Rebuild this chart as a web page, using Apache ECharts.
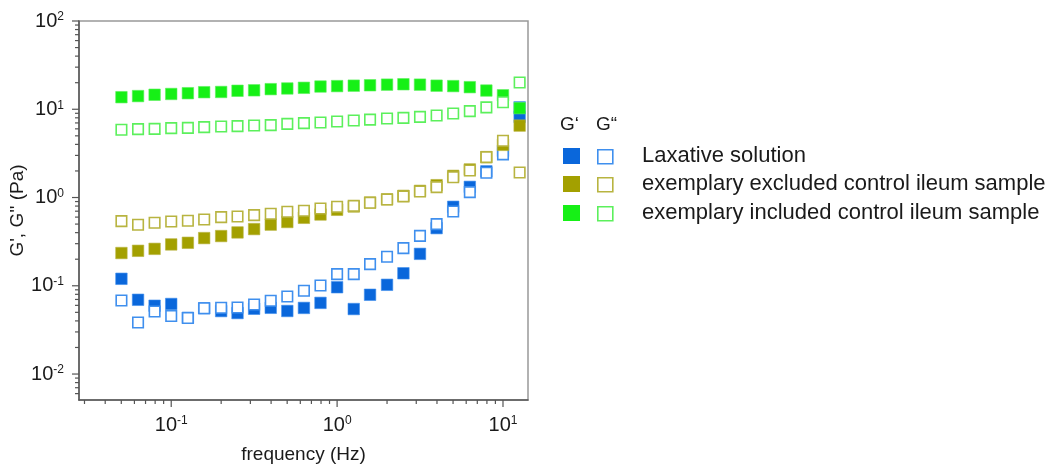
<!DOCTYPE html>
<html>
<head>
<meta charset="utf-8">
<script src="https://cdn.jsdelivr.net/npm/echarts@6/dist/echarts.min.js"></script>
<style>
html,body{margin:0;padding:0;background:#fff;}
#chart{width:1050px;height:465px;}
</style>
</head>
<body>
<div id="chart"></div>
<script>
// ---- data ----
const FREQ = [0.0501,0.0631,0.0794,0.1,0.126,0.158,0.2,0.251,0.316,0.398,0.501,0.631,0.794,1,1.26,1.58,2,2.51,3.16,3.98,5.01,6.31,7.94,10,12.6];
const LAX_G1 = [0.120,0.0694,0.0594,0.0622,0.0434,0.0556,0.0517,0.0491,0.0549,0.0563,0.0518,0.0561,0.0640,0.0962,0.0545,0.0791,0.1026,0.1386,0.230,0.450,0.785,1.32,1.98,3.38,8.2];
const LAX_G2 = [0.0682,0.0384,0.0512,0.0454,0.0431,0.0556,0.0563,0.0568,0.0614,0.0676,0.0757,0.0878,0.1008,0.1357,0.1357,0.176,0.213,0.267,0.368,0.500,0.694,1.15,1.91,3.08,10.5];
const EXC_G1 = [0.235,0.249,0.262,0.294,0.307,0.347,0.366,0.402,0.439,0.493,0.528,0.589,0.642,0.726,0.791,0.878,0.955,1.045,1.19,1.38,1.76,2.08,2.87,3.95,6.53];
const EXC_G2 = [0.540,0.491,0.517,0.535,0.545,0.563,0.600,0.609,0.632,0.654,0.689,0.709,0.750,0.785,0.805,0.871,0.949,1.03,1.17,1.31,1.70,2.02,2.87,4.39,1.92];
const INC_G1 = [13.7,14.1,14.6,14.9,15.2,15.6,15.7,16.2,16.4,16.9,17.2,17.5,18.1,18.3,18.5,18.7,19.0,19.2,19.0,18.5,18.3,17.8,16.3,14.4,10.3];
const INC_G2 = [5.85,5.95,6.0,6.11,6.16,6.27,6.37,6.44,6.54,6.61,6.83,6.96,7.07,7.26,7.45,7.64,7.85,7.99,8.2,8.49,8.94,9.52,10.5,12.0,20.1];

const SERIES_NAMES = ['Laxative solution','exemplary excluded control ileum sample','exemplary included control ileum sample'];
const LEGEND_HEADER = ['G\u2018','G\u201C'];
const X_TITLE = 'frequency (Hz)';
const Y_TITLE = "G', G'' (Pa)";

const X_MIN = 0.0278, X_MAX = 14.15;
const Y_MIN = 0.00508, Y_MAX = 100;

// ---- styling ----
const FONT = "'Liberation Sans', Arial, sans-serif";
const AXIS_COLOR = '#555';
const FILL = ['#0a67db', '#a3a000', '#16f016'];
const OPEN = ['#3f8fee', '#b8b440', '#5cf05c'];

function pairs(ys){ return FREQ.map((f,i)=>[f, ys[i]]); }

// tick values (majors at decades, minors at 2..9)
function logTicks(min, max){
  const major = [], minor = [];
  for (let k = Math.floor(Math.log10(min)); k <= Math.ceil(Math.log10(max)); k++) {
    for (let m = 1; m <= 9; m++) {
      const v = m * Math.pow(10, k);
      if (v < min*0.9999 || v > max*1.0001) continue;
      (m === 1 ? major : minor).push(v);
    }
  }
  return {major, minor};
}
const XT = logTicks(X_MIN, X_MAX);
const YT = logTicks(Y_MIN, Y_MAX);

function decadeLabel(v){
  const e = Math.log10(v);
  if (Math.abs(e - Math.round(e)) > 1e-6) return '';
  return '{b|10}{s|' + Math.round(e) + '}';
}
const richLabel = {
  b: {fontSize: 20, fontFamily: FONT, color: '#1a1a1a'},
  s: {fontSize: 12, fontFamily: FONT, color: '#1a1a1a', verticalAlign: 'top'}
};

function tickSeries(axis, values, len){
  return {
    type: 'custom', silent: true, clip: false, z: 5,
    data: values.map(v => axis === 'x' ? [v, Y_MIN] : [X_MIN, v]),
    renderItem: function(params, api){
      const p = api.coord([api.value(0), api.value(1)]);
      const shape = axis === 'x'
        ? {x1: p[0], y1: p[1], x2: p[0], y2: p[1] + len}
        : {x1: p[0], y1: p[1], x2: p[0] - len, y2: p[1]};
      return {type: 'line', shape: shape, style: {stroke: AXIS_COLOR, lineWidth: 1.2}};
    }
  };
}

function scatter(name, ys, idx, filled){
  return {
    type: 'scatter', name: name, data: pairs(ys), symbol: 'rect',
    symbolSize: filled ? 11.5 : 10.5,
    itemStyle: filled
      ? {color: FILL[idx], borderColor: OPEN[idx], borderWidth: 0.6, opacity: 1}
      : {color: '#ffffff', borderColor: OPEN[idx], borderWidth: 1.6, opacity: 1},
    z: 3
  };
}

// legend graphic
const legendEls = [];
legendEls.push({type:'text', left: 560, top: 115, style:{text: LEGEND_HEADER[0], font: '19px ' + FONT, fill:'#1a1a1a'}});
legendEls.push({type:'text', left: 596, top: 115, style:{text: LEGEND_HEADER[1], font: '19px ' + FONT, fill:'#1a1a1a'}});
const rowY = [148, 176, 205];
SERIES_NAMES.forEach((n, i) => {
  legendEls.push({type:'rect', left: 563, top: rowY[i], shape:{width:17, height:16}, style:{fill: FILL[i]}});
  legendEls.push({type:'rect', left: 597, top: rowY[i]+1, shape:{width:15, height:14}, style:{fill:'#fff', stroke: OPEN[i], lineWidth: 1.6}});
  legendEls.push({type:'text', left: 642, top: rowY[i]-3, style:{text: n, font: '22px ' + FONT, fill:'#1a1a1a'}});
});

const chart = echarts.init(document.getElementById('chart'), null, {renderer: 'canvas'});
chart.setOption({
  animation: false,
  backgroundColor: '#fff',
  grid: {left: 79, top: 21, right: 522, bottom: 65, show: true, borderColor: '#999', borderWidth: 1.5,
         backgroundColor: 'transparent', containLabel: false, outerBoundsMode: 'none'},
  xAxis: {
    type: 'log', min: X_MIN, max: X_MAX,
    name: X_TITLE, nameLocation: 'middle', nameGap: 45,
    nameTextStyle: {fontSize: 19, fontFamily: FONT, color: '#1a1a1a'},
    axisLine: {lineStyle: {color: AXIS_COLOR, width: 1.5}},
    axisTick: {show: false}, splitLine: {show: false},
    axisLabel: {formatter: decadeLabel, rich: richLabel, margin: 15, showMinLabel: false, showMaxLabel: false}
  },
  yAxis: {
    type: 'log', min: Y_MIN, max: Y_MAX,
    name: Y_TITLE, nameLocation: 'middle', nameGap: 42, nameRotate: 90,
    nameTextStyle: {fontSize: 19, fontFamily: FONT, color: '#1a1a1a'},
    axisLine: {lineStyle: {color: AXIS_COLOR, width: 1.5}},
    axisTick: {show: false}, splitLine: {show: false},
    axisLabel: {formatter: decadeLabel, rich: richLabel, margin: 15, showMinLabel: false}
  },
  graphic: legendEls,
  series: [
    scatter(SERIES_NAMES[0] + ' G\u2018', LAX_G1, 0, true),
    scatter(SERIES_NAMES[0] + ' G\u201C', LAX_G2, 0, false),
    scatter(SERIES_NAMES[1] + ' G\u2018', EXC_G1, 1, true),
    scatter(SERIES_NAMES[1] + ' G\u201C', EXC_G2, 1, false),
    scatter(SERIES_NAMES[2] + ' G\u2018', INC_G1, 2, true),
    scatter(SERIES_NAMES[2] + ' G\u201C', INC_G2, 2, false),
    tickSeries('x', XT.major, 7),
    tickSeries('x', XT.minor, 4),
    tickSeries('y', YT.major, 7),
    tickSeries('y', YT.minor, 4)
  ]
});
</script>
</body>
</html>
